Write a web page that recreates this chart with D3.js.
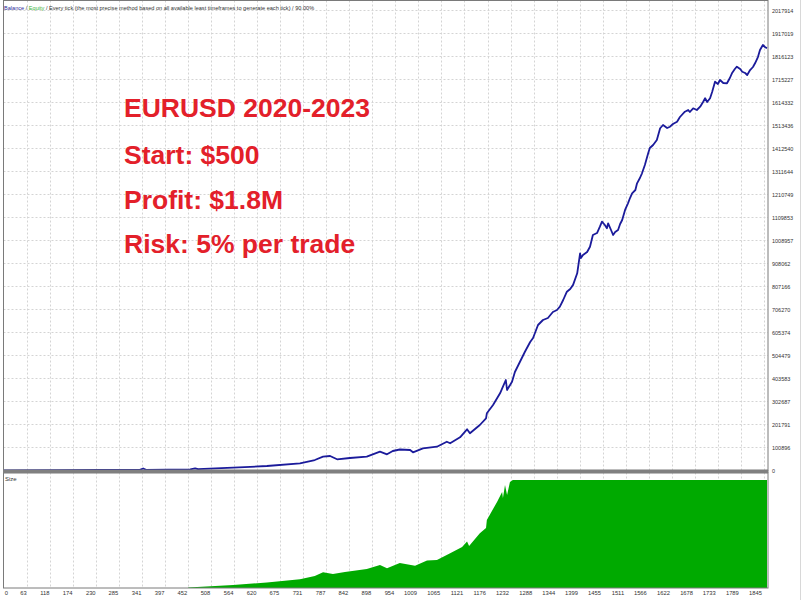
<!DOCTYPE html>
<html><head><meta charset="utf-8">
<script src="https://cdn.jsdelivr.net/npm/d3@7/dist/d3.min.js"></script>
<style>html,body{margin:0;padding:0;background:#fff;}svg{display:block;}</style>
</head><body>
<svg id="c" width="803" height="600"></svg>
<script>
// ---- data ----
const balanceTrades = [0,136,233,330,338,345,452,464,471,556,638,718,754,774,791,808,839,880,912,929,943,960,985,992,1016,1050,1074,1082,1106,1123,1130,1154,1169,1171,1186,1203,1210,1217,1220,1232,1239,1251,1263,1276,1283,1295,1307,1319,1331,1341,1348,1356,1365,1373,1380,1390,1397,1399,1404,1414,1421,1428,1438,1445,1450,1457,1462,1465,1472,1477,1482,1489,1494,1499,1506,1513,1518,1523,1531,1535,1542,1547,1554,1562,1566,1574,1583,1591,1598,1608,1615,1622,1632,1639,1651,1659,1663,1671,1680,1688,1695,1700,1705,1712,1717,1724,1731,1736,1744,1753,1760,1765,1772,1777,1785,1790,1797,1802,1809,1816,1821,1828,1833,1840,1845,1850];
const balanceValues = [500,1300,2200,3100,8800,3100,5300,9600,5700,12300,19700,31600,46000,60500,63600,49100,54800,60500,82400,71000,85500,92100,89900,79800,97300,104400,126300,119300,145600,180700,163100,199500,228900,250800,287200,338500,367400,396800,353000,389400,431900,475700,519600,563400,581000,638000,659900,668700,695000,703800,718200,747600,784000,795800,813900,864700,952400,931800,945000,958100,981300,1032600,1041400,1069000,1091000,1076500,1062000,1083900,1054600,1032600,1045700,1054600,1080900,1098500,1142400,1171600,1194800,1215500,1230000,1259300,1282600,1303100,1339600,1390900,1414100,1427300,1449200,1500600,1515000,1501800,1507500,1519300,1529400,1550000,1573300,1580700,1571900,1588200,1580700,1595200,1615800,1632000,1615800,1632000,1659700,1704800,1694700,1712300,1699100,1697800,1721000,1741600,1760500,1770600,1760500,1748700,1743000,1734200,1756100,1769300,1785500,1813100,1843800,1865800,1857000,1851300];
const sizeTrades = [447,556,638,718,754,774,798,827,880,912,929,960,997,1026,1050,1082,1111,1123,1128,1154,1169,1171,1196,1208,1210,1215,1220,1227,1234,1850];
const sizeValues = [0.2,1.4,2.6,4.0,5.6,7.3,6.5,7.4,8.8,10.7,9.1,11.6,10.3,12.7,13.0,16.1,19.0,21.5,19.5,25.4,27.8,31.5,40.0,44.5,41.7,47.7,43.1,49.1,50,50];
const yTickValues = [0,100896,201791,302687,403583,504479,605374,706270,807166,908062,1008957,1109853,1210749,1311644,1412540,1513436,1614332,1715227,1816123,1917019,2017914];
const xTickLabels = [0,63,118,174,230,285,341,397,452,508,564,620,675,731,787,842,898,954,1009,1065,1121,1176,1232,1288,1344,1399,1455,1511,1566,1622,1678,1733,1789,1845];
const titleLines = ["EURUSD 2020-2023","Start: $500","Profit: $1.8M","Risk: 5% per trade"];
const legendParts = [["Balance","#2b2b9a"],[" / ","#333"],["Equity","#3cb43c"],[" / Every tick (the most precise method based on all available least timeframes to generate each tick) / 90.00%","#333"]];

// ---- layout ----
const L = 3.5, R = 768, mainTop = 0.5, mainBottom = 470, sizeTop = 473, sizeBottom = 588;
const svg = d3.select("#c");
const font = "'Liberation Sans', Arial, sans-serif";

const x = d3.scaleLinear().domain([0,1850]).range([3.7,767]);
const y = d3.scaleLinear().domain([0,2017914]).range([470.5,10.3]);
const ys = d3.scaleLinear().domain([0,53.3]).range([588,473]);
const gridX = d3.scaleLinear().domain([0,33]).range([3.7,764]);

svg.append("rect").attr("width",803).attr("height",600).attr("fill","#fff");

// grid
const grid = svg.append("g").attr("stroke","#d4d4d4").attr("stroke-width",1).attr("stroke-dasharray","2,2");
grid.selectAll("line.v").data(d3.range(1,34)).join("line").attr("class","v")
  .attr("x1",d=>Math.round(gridX(d))+0.5).attr("x2",d=>Math.round(gridX(d))+0.5)
  .attr("y1",mainTop).attr("y2",sizeBottom);
grid.selectAll("line.h").data(yTickValues.slice(1)).join("line").attr("class","h")
  .attr("x1",L).attr("x2",R)
  .attr("y1",d=>Math.round(y(d))+0.5).attr("y2",d=>Math.round(y(d))+0.5);

// size area
const sizeData = sizeTrades.map((t,i)=>({t, v:sizeValues[i]}));
svg.append("path").datum(sizeData)
  .attr("fill","#00aa00")
  .attr("d", d3.area().x(d=>x(d.t)).y0(ys(0)).y1(d=>ys(d.v)));

// balance line
const balData = balanceTrades.map((t,i)=>({t, v:balanceValues[i]}));
svg.append("path").datum(balData)
  .attr("fill","none").attr("stroke","#1b1b9b").attr("stroke-width",1.8)
  .attr("stroke-linejoin","round")
  .attr("d", d3.line().x(d=>x(d.t)).y(d=>y(d.v)));

// frames
svg.append("rect").attr("x",L).attr("y",mainTop).attr("width",R-L).attr("height",mainBottom-mainTop)
  .attr("fill","none").attr("stroke","#7a7a7a").attr("stroke-width",1);
svg.append("rect").attr("x",L).attr("y",sizeTop).attr("width",R-L).attr("height",sizeBottom-sizeTop)
  .attr("fill","none").attr("stroke","#7a7a7a").attr("stroke-width",1);
svg.append("rect").attr("x",3).attr("y",470).attr("width",R-2.5).attr("height",3).attr("fill","#808080");
svg.append("line").attr("x1",800.5).attr("x2",800.5).attr("y1",0).attr("y2",600).attr("stroke","#d8d8d8");

// right axis
const ax = svg.append("g").attr("transform",`translate(${R},0)`)
  .call(d3.axisRight(y).tickValues(yTickValues).tickSize(0).tickPadding(4).tickFormat(d=>String(d)));
ax.select(".domain").remove();
ax.selectAll("text").attr("font-family",font).attr("font-size",5.5).attr("fill","#333");

// bottom axis
const bx = svg.append("g").attr("transform",`translate(0,${sizeBottom})`)
  .call(d3.axisBottom(x).tickValues(xTickLabels).tickSize(0).tickFormat(d=>String(d)));
bx.select(".domain").remove();
bx.selectAll("text").attr("font-family",font).attr("font-size",5.8).attr("fill","#333")
  .attr("y",3).attr("dy","0.71em")
  .attr("text-anchor",d=>d===0?"start":"end")
  .attr("x",d=>d===0?0.5:-3.5);

// legend: separate text pieces laid out one after another, sized to span ~311px
const lg = svg.append("g");
const pieces = lg.selectAll("text").data(legendParts).join("text")
  .attr("y",9.5).attr("font-family",font).attr("font-size",10)
  .attr("fill",d=>d[1]).attr("xml:space","preserve").style("white-space","pre").text(d=>d[0]);
let total = 0; pieces.each(function(){ total += this.getComputedTextLength(); });
const fs = 10 * 311 / total;
pieces.attr("font-size",fs);
let cx = 4;
pieces.each(function(){ d3.select(this).attr("x",cx); cx += this.getComputedTextLength(); });

// size label
svg.append("text").attr("x",5).attr("y",481).attr("font-family",font).attr("font-size",6).attr("fill","#333").text("Size");

// title block
svg.append("g").selectAll("text").data(titleLines).join("text")
  .attr("x",124).attr("y",(d,i)=>[117,164,209,253][i])
  .attr("font-family",font).attr("font-weight","bold").attr("font-size",26.5)
  .attr("fill","#e3202a").text(d=>d);
</script>
</body></html>
